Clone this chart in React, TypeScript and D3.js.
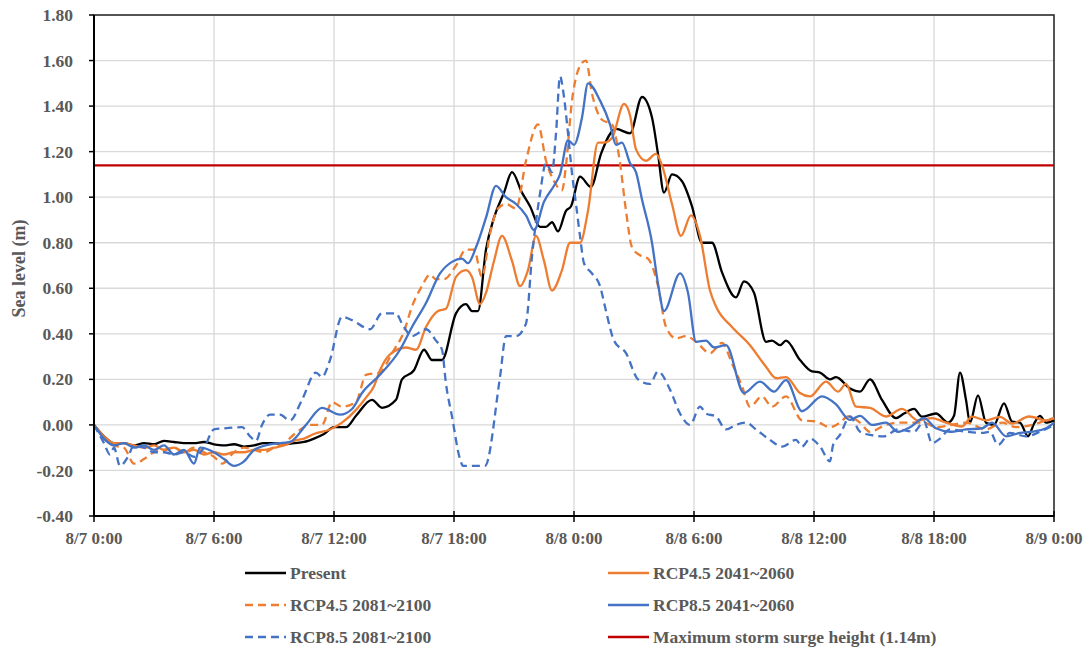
import React from "react";
import * as d3 from "d3";

type Pt = [number, number];

const xTickHours = [0, 6, 12, 18, 24, 30, 36, 42, 48];
const xTickLabels = ["8/7 0:00", "8/7 6:00", "8/7 12:00", "8/7 18:00", "8/8 0:00", "8/8 6:00", "8/8 12:00", "8/8 18:00", "8/9 0:00"];
const yTicks = [-0.4, -0.2, 0, 0.2, 0.4, 0.6, 0.8, 1.0, 1.2, 1.4, 1.6, 1.8];
const surgeHeight = 1.14;

const present: Pt[] = [
  [0, 0], [0.5, -0.05], [1, -0.08], [1.5, -0.08], [2, -0.09], [2.5, -0.08], [3, -0.085], [3.5, -0.07], [4, -0.075], [4.5, -0.08],
  [5, -0.08], [5.5, -0.075], [6, -0.085], [6.5, -0.09], [7, -0.085], [7.5, -0.095], [8, -0.09], [8.5, -0.08], [9, -0.08], [9.5, -0.085],
  [10, -0.08], [10.5, -0.075], [11, -0.06], [11.5, -0.04], [12, -0.01], [12.6, -0.01], [13.1, 0.04], [13.9, 0.11], [14.4, 0.075], [15.1, 0.11],
  [15.4, 0.2], [16, 0.24], [16.5, 0.33], [16.9, 0.285], [17.4, 0.285], [18.1, 0.49], [18.6, 0.53], [18.9, 0.5], [19.2, 0.5], [19.6, 0.77],
  [20, 0.91], [20.5, 1.02], [20.9, 1.11], [21.4, 1.02], [21.8, 0.96], [22.3, 0.87], [22.6, 0.87], [22.9, 0.89], [23.2, 0.85], [23.6, 0.94],
  [23.85, 0.96], [24.3, 1.09], [24.85, 1.045], [25.35, 1.19], [26.1, 1.3], [26.8, 1.28], [27.4, 1.44], [27.9, 1.35], [28.2, 1.19], [28.5, 1.02],
  [28.9, 1.1], [29.4, 1.07], [29.9, 0.96], [30.4, 0.8], [30.9, 0.8], [31.4, 0.67], [32.1, 0.56], [32.5, 0.63], [33, 0.58], [33.6, 0.365],
  [33.9, 0.37], [34.3, 0.35], [34.6, 0.37], [35.3, 0.285], [35.9, 0.235], [36.3, 0.23], [36.8, 0.2], [37.1, 0.21], [37.8, 0.16], [38.3, 0.146],
  [38.8, 0.2], [39.4, 0.11], [40.1, 0.03], [40.5, 0.05], [41, 0.07], [41.4, 0.036], [42.1, 0.05], [42.7, 0.01], [43, 0.04], [43.3, 0.23],
  [43.6, 0.11], [43.8, 0.01], [44.2, 0.13], [44.6, 0.01], [45, 0], [45.5, 0.095], [45.9, 0.015], [46.3, 0.01], [46.7, -0.05], [47, 0.005],
  [47.3, 0.04], [47.6, 0.01], [48, 0.02],
];

const rcp45Mid: Pt[] = [
  [0, 0], [0.5, -0.05], [1, -0.08], [1.5, -0.08], [2, -0.09], [2.5, -0.1], [3, -0.09], [3.5, -0.11], [4, -0.1], [4.5, -0.12],
  [5, -0.11], [5.5, -0.13], [6, -0.12], [6.5, -0.13], [7, -0.12], [7.5, -0.12], [8, -0.11], [8.5, -0.11], [9, -0.1], [9.5, -0.09],
  [10, -0.07], [10.5, -0.06], [11, -0.04], [11.8, -0.02], [12.4, 0.01], [13.1, 0.066], [13.6, 0.12], [14, 0.17], [14.3, 0.24], [14.8, 0.31],
  [15.6, 0.34], [16.1, 0.33], [16.6, 0.43], [17.2, 0.5], [17.6, 0.51], [18.1, 0.65], [18.6, 0.68], [18.9, 0.65], [19.3, 0.53], [19.6, 0.58],
  [20, 0.72], [20.4, 0.83], [20.9, 0.72], [21.3, 0.61], [21.7, 0.68], [22.1, 0.83], [22.5, 0.72], [22.9, 0.59], [23.4, 0.68], [23.8, 0.8],
  [24.3, 0.8], [24.7, 0.94], [25.2, 1.24], [25.5, 1.24], [25.9, 1.26], [26.5, 1.41], [26.8, 1.36], [27.1, 1.21], [27.6, 1.16], [28.1, 1.19],
  [28.4, 1.14], [28.9, 0.97], [29.35, 0.83], [29.85, 0.92], [30.3, 0.83], [30.8, 0.59], [31.1, 0.52], [31.9, 0.43], [32.8, 0.35], [33.6, 0.255],
  [34.1, 0.205], [34.6, 0.21], [35.3, 0.14], [35.8, 0.125], [36.6, 0.19], [37.2, 0.146], [37.6, 0.18], [38.1, 0.08], [38.8, 0.075], [39.6, 0.037],
  [40.4, 0.07], [41.2, 0.02], [41.9, 0.03], [42.6, 0.01], [43.4, -0.007], [43.9, 0.036], [44.6, 0.02], [45.3, 0.035], [45.9, 0.006], [46.75, 0.037],
  [47.6, 0.02], [48, 0.03],
];

const rcp45End: Pt[] = [
  [0, 0], [0.5, -0.06], [1, -0.09], [1.5, -0.1], [2, -0.17], [2.5, -0.15], [3, -0.12], [3.5, -0.11], [4, -0.1], [4.5, -0.12],
  [5, -0.1], [5.5, -0.12], [6, -0.14], [6.4, -0.17], [7, -0.12], [7.5, -0.1], [8, -0.11], [8.5, -0.12], [9, -0.1], [9.5, -0.08],
  [10.1, -0.035], [10.8, 0], [11.4, 0], [11.9, 0.1], [12.4, 0.08], [13.1, 0.1], [13.6, 0.22], [14.3, 0.23], [14.9, 0.315], [15.5, 0.41],
  [15.9, 0.52], [16.4, 0.61], [16.8, 0.66], [17.1, 0.64], [17.5, 0.64], [18.1, 0.7], [18.6, 0.77], [19, 0.77], [19.4, 0.65], [19.8, 0.84],
  [20.2, 0.95], [20.6, 0.97], [21.1, 0.95], [21.6, 1.16], [22.2, 1.32], [22.6, 1.16], [23, 1.07], [23.4, 1.03], [23.6, 1.14], [23.9, 1.425],
  [24.4, 1.59], [24.6, 1.6], [24.9, 1.455], [25.4, 1.34], [25.9, 1.32], [26.3, 1.15], [26.6, 0.94], [26.9, 0.78], [27.3, 0.745], [27.7, 0.73],
  [28.2, 0.61], [28.6, 0.43], [29.1, 0.38], [29.6, 0.39], [30.1, 0.365], [30.8, 0.315], [31.4, 0.36], [31.9, 0.27], [32.4, 0.17], [32.8, 0.08],
  [33.4, 0.125], [33.9, 0.08], [34.6, 0.125], [35.4, 0.02], [36.1, 0.015], [36.8, -0.01], [37.3, 0.01], [37.7, 0.037], [38.3, 0.01], [38.8, -0.03],
  [39.6, 0], [40.2, 0.01], [41.5, 0.01], [42.1, -0.01], [42.9, 0], [43.6, 0.01], [44.6, -0.02], [45.4, 0.01], [46.1, -0.01], [46.9, 0],
  [47.6, 0.02], [48, 0.03],
];

const rcp85Mid: Pt[] = [
  [0, 0], [0.5, -0.06], [1, -0.09], [1.5, -0.08], [2, -0.1], [2.5, -0.09], [3, -0.11], [3.5, -0.09], [4, -0.13], [4.5, -0.11],
  [5, -0.17], [5.3, -0.1], [6, -0.12], [6.5, -0.15], [7, -0.18], [7.5, -0.16], [8, -0.11], [8.8, -0.085], [9.8, -0.075], [10.6, 0],
  [11.4, 0.075], [12.3, 0.045], [12.9, 0.07], [13.4, 0.14], [14.3, 0.22], [15.3, 0.33], [15.9, 0.43], [16.6, 0.535], [17.3, 0.665], [17.9, 0.716],
  [18.4, 0.73], [18.7, 0.71], [19.1, 0.78], [19.6, 0.91], [20.1, 1.05], [20.6, 1.0], [21.1, 0.97], [21.6, 0.92], [22, 0.855], [22.5, 0.98],
  [23, 1.05], [23.3, 1.1], [23.7, 1.25], [24, 1.23], [24.4, 1.35], [24.7, 1.5], [25.3, 1.425], [25.8, 1.32], [26.1, 1.23], [26.4, 1.24],
  [26.8, 1.15], [27.1, 1.11], [27.4, 0.99], [27.9, 0.8], [28.2, 0.62], [28.5, 0.5], [29.3, 0.665], [29.7, 0.58], [30.1, 0.365], [30.6, 0.37],
  [31, 0.34], [31.6, 0.35], [32.5, 0.14], [33.3, 0.19], [34, 0.146], [34.6, 0.197], [35.4, 0.06], [36.4, 0.125], [37.1, 0.09], [37.8, 0.022],
  [38.3, 0.04], [38.9, 0], [39.6, 0.01], [40.2, -0.03], [40.8, -0.01], [41.5, 0.03], [42.1, -0.015], [42.8, -0.03], [43.6, -0.02], [44.4, -0.015],
  [44.9, 0.01], [45.6, -0.05], [46.3, -0.035], [46.9, -0.03], [47.6, -0.015], [48, 0.01],
];

const rcp85End: Pt[] = [
  [0, 0], [0.5, -0.08], [0.8, -0.13], [1, -0.1], [1.3, -0.18], [1.7, -0.14], [2, -0.09], [2.5, -0.1], [3, -0.12], [3.5, -0.12],
  [4, -0.13], [4.5, -0.12], [5, -0.14], [5.5, -0.1], [6, -0.02], [6.5, -0.015], [7.4, -0.01], [7.8, -0.05], [8.1, -0.07], [8.4, 0],
  [8.8, 0.045], [9.3, 0.045], [9.8, 0.02], [10.4, 0.11], [11.1, 0.23], [11.4, 0.21], [11.8, 0.285], [12.4, 0.475], [12.9, 0.46], [13.8, 0.42],
  [14.4, 0.49], [15.1, 0.49], [15.4, 0.445], [15.9, 0.39], [16.6, 0.42], [17.1, 0.37], [17.4, 0.33], [17.6, 0.18], [17.9, 0.037], [18.3, -0.15],
  [18.45, -0.18], [19.55, -0.18], [20.3, 0.21], [20.6, 0.39], [21.1, 0.39], [21.6, 0.445], [21.9, 0.74], [22.3, 1.015], [22.6, 1.15], [22.9, 1.11],
  [23.1, 1.28], [23.3, 1.53], [23.5, 1.44], [23.7, 1.28], [23.9, 1.105], [24.1, 0.97], [24.3, 0.83], [24.5, 0.71], [24.9, 0.665], [25.3, 0.61],
  [25.6, 0.5], [26, 0.37], [26.6, 0.315], [27.2, 0.2], [27.8, 0.18], [28.2, 0.235], [28.8, 0.155], [29.3, 0.05], [29.8, 0], [30.3, 0.08],
  [30.6, 0.05], [31.1, 0.037], [31.6, -0.02], [32.1, 0], [32.6, 0.01], [33.1, -0.02], [33.8, -0.066], [34.4, -0.095], [35.1, -0.066], [35.4, -0.095],
  [35.8, -0.06], [36.3, -0.095], [36.8, -0.16], [36.95, -0.09], [37.3, -0.044], [37.8, 0.037], [38.3, -0.03], [38.8, -0.044], [39.5, -0.05], [40.2, -0.02],
  [41, -0.03], [41.5, 0.015], [41.9, -0.08], [42.3, -0.06], [42.8, -0.02], [43.6, -0.03], [44.4, -0.035], [44.8, -0.03], [45.2, -0.088], [45.8, -0.035],
  [46.6, -0.05], [47.3, -0.03], [48, 0],
];

const seriesNames = ["Present", "RCP4.5 2041~2060", "RCP4.5 2081~2100", "RCP8.5 2041~2060", "RCP8.5 2081~2100"];
const seriesData = [present, rcp45Mid, rcp45End, rcp85Mid, rcp85End];
const seriesColors = ["#000000", "#ED7D31", "#ED7D31", "#4472C4", "#4472C4"];
const seriesDashed = [false, false, true, false, true];
const surgeLabel = "Maximum storm surge height (1.14m)";
const surgeColor = "#C00000";

const W = 1091;
const H = 648;
const plot = { left: 94, right: 1054, top: 15, bottom: 516 };
const textColor = "#595959";
const font = "'Liberation Serif', 'Times New Roman', serif";

export default function App() {
  const x = d3.scaleLinear().domain([0, 48]).range([plot.left, plot.right]);
  const y = d3.scaleLinear().domain([-0.4, 1.8]).range([plot.bottom, plot.top]);
  const line = d3
    .line<Pt>()
    .x((d) => x(d[0]))
    .y((d) => y(d[1]))
    .curve(d3.curveMonotoneX);

  const legendItems = [
    ...seriesNames.map((n, i) => ({ name: n, color: seriesColors[i], dashed: seriesDashed[i] })),
    { name: surgeLabel, color: surgeColor, dashed: false },
  ];
  const legendCols = [245, 608];
  const legendRows = [573, 605, 637];

  return (
    <svg width={W} height={H} style={{ position: "absolute", left: 0, top: 0, background: "#fff" }} fontFamily={font}>
      {yTicks.map((t) => (
        <line key={"gy" + t} x1={plot.left} x2={plot.right} y1={y(t)} y2={y(t)} stroke="#d9d9d9" strokeWidth={1.3} />
      ))}
      {xTickHours.map((h) => (
        <line key={"gx" + h} x1={x(h)} x2={x(h)} y1={plot.top} y2={plot.bottom} stroke="#d9d9d9" strokeWidth={1.3} />
      ))}
      <rect x={plot.left} y={plot.top} width={plot.right - plot.left} height={plot.bottom - plot.top} fill="none" stroke="#262626" strokeWidth={1.5} />
      <line x1={plot.left} x2={plot.right} y1={y(surgeHeight)} y2={y(surgeHeight)} stroke={surgeColor} strokeWidth={2.2} />
      {seriesData.map((d, i) => (
        <path
          key={seriesNames[i]}
          d={line(d) || ""}
          fill="none"
          stroke={seriesColors[i]}
          strokeWidth={2.3}
          strokeDasharray={seriesDashed[i] ? "8,5" : undefined}
          strokeLinejoin="round"
        />
      ))}
      {yTicks.map((t) => (
        <g key={"yt" + t}>
          <line x1={plot.left - 5} x2={plot.left} y1={y(t)} y2={y(t)} stroke="#000" strokeWidth={1.5} />
          <text x={73} y={y(t)} dy="0.35em" textAnchor="end" fontSize={17.5} fontWeight="bold" fill={textColor}>
            {t.toFixed(2)}
          </text>
        </g>
      ))}
      <line x1={plot.left} x2={plot.left} y1={plot.top} y2={plot.bottom + 1} stroke="#000" strokeWidth={2} />
      <line x1={plot.left - 1} x2={plot.right} y1={plot.bottom} y2={plot.bottom} stroke="#000" strokeWidth={2} />
      {xTickHours.map((h, i) => (
        <g key={"xt" + h}>
          <line x1={x(h)} x2={x(h)} y1={plot.bottom - 5} y2={plot.bottom + 6} stroke="#000" strokeWidth={1.5} />
          <text x={x(h)} y={544} textAnchor="middle" fontSize={17} fontWeight="bold" fill={textColor}>
            {xTickLabels[i]}
          </text>
        </g>
      ))}
      <text
        transform={`translate(19,${(plot.top + plot.bottom) / 2 + 3}) rotate(-90)`}
        textAnchor="middle"
        dy="0.35em"
        fontSize={18}
        fontWeight="bold"
        fill={textColor}
      >
        Sea level (m)
      </text>
      {legendItems.map((it, i) => {
        const cx = legendCols[i % 2];
        const cy = legendRows[Math.floor(i / 2)];
        return (
          <g key={"lg" + i}>
            <line x1={cx} x2={cx + 41} y1={cy} y2={cy} stroke={it.color} strokeWidth={2.5} strokeDasharray={it.dashed ? "8,5" : undefined} />
            <text x={cx + 45} y={cy} dy="0.35em" fontSize={17.5} fontWeight="bold" fill={textColor}>
              {it.name}
            </text>
          </g>
        );
      })}
    </svg>
  );
}
